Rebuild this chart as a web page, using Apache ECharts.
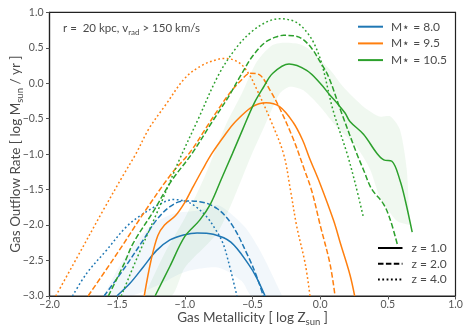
<!DOCTYPE html>
<html><head><meta charset="utf-8">
<script src="https://cdn.jsdelivr.net/npm/echarts@6/dist/echarts.min.js"></script>
<style>html,body{margin:0;padding:0;background:#fff}#c{width:471px;height:336px}</style>
</head><body><div id="c"></div><script>
// ---------- data ----------
var xTicks = [-2.0, -1.5, -1.0, -0.5, 0.0, 0.5, 1.0];
var yTicks = [-3.0, -2.5, -2.0, -1.5, -1.0, -0.5, 0.0, 0.5, 1.0];
var massLabels = ['M⋆ = 8.0', 'M⋆ = 9.5', 'M⋆ = 10.5'];
var zLabels = ['z = 1.0', 'z = 2.0', 'z = 4.0'];

var blueZ1 = [[-1.503,-3.0],[-1.405,-2.82],[-1.307,-2.59],[-1.21,-2.36],[-1.11,-2.21],[-1.01,-2.14],[-0.91,-2.11],[-0.79,-2.13],[-0.66,-2.24],[-0.53,-2.55],[-0.47,-2.74],[-0.407,-3.0]];
var blueZ2 = [[-1.597,-3.0],[-1.455,-2.63],[-1.307,-2.21],[-1.21,-1.93],[-1.11,-1.74],[-1.01,-1.66],[-0.89,-1.67],[-0.76,-1.77],[-0.65,-2.0],[-0.53,-2.45],[-0.47,-2.72],[-0.42,-3.0]];
var blueZ4 = [[-1.83,-3.0],[-1.725,-2.68],[-1.577,-2.35],[-1.43,-2.02],[-1.307,-1.84],[-1.18,-1.70],[-1.085,-1.64],[-0.986,-1.67],[-0.92,-1.74],[-0.84,-1.88],[-0.777,-2.05],[-0.72,-2.25],[-0.68,-2.5],[-0.615,-3.0]];

var orangeZ1 = [[-1.3,-3.0],[-1.25,-2.5],[-1.2,-2.15],[-1.15,-2.0],[-1.07,-1.87],[-1.0,-1.68],[-0.95,-1.5],[-0.87,-1.22],[-0.8,-0.99],[-0.7,-0.72],[-0.63,-0.55],[-0.5,-0.33],[-0.4,-0.275],[-0.3,-0.33],[-0.2,-0.55],[-0.13,-0.8],[-0.08,-1.05],[0.0,-1.42],[0.1,-1.94],[0.15,-2.26],[0.22,-2.7],[0.255,-3.0]];
var orangeZ2 = [[-1.715,-3.0],[-1.5,-2.4],[-1.3,-1.82],[-1.1,-1.28],[-0.96,-0.97],[-0.85,-0.65],[-0.75,-0.36],[-0.66,-0.12],[-0.58,0.05],[-0.52,0.14],[-0.45,0.12],[-0.37,-0.1],[-0.3,-0.35],[-0.2,-0.78],[-0.12,-1.2],[-0.062,-1.52],[0.0,-2.0],[0.073,-2.55],[0.11,-3.0]];
var orangeZ4 = [[-1.954,-3.0],[-1.8,-2.47],[-1.6,-1.78],[-1.45,-1.28],[-1.36,-0.99],[-1.265,-0.64],[-1.14,-0.3],[-1.0,0.07],[-0.875,0.25],[-0.75,0.34],[-0.7,0.35],[-0.6,0.29],[-0.53,0.14],[-0.47,-0.08],[-0.36,-0.55],[-0.27,-1.0],[-0.22,-1.5],[-0.173,-2.02],[-0.11,-2.55],[-0.075,-3.0]];

var greenZ1 = [[-1.22,-3.0],[-1.11,-2.58],[-1.0,-2.16],[-0.89,-1.93],[-0.81,-1.7],[-0.73,-1.35],[-0.65,-1.0],[-0.57,-0.64],[-0.49,-0.29],[-0.42,-0.06],[-0.35,0.14],[-0.23,0.27],[-0.1,0.18],[0.0,0.0],[0.073,-0.17],[0.12,-0.27],[0.184,-0.42],[0.22,-0.54],[0.32,-0.72],[0.42,-0.99],[0.47,-1.08],[0.53,-1.10],[0.59,-1.37],[0.63,-1.66],[0.68,-2.10]];
var greenZ2 = [[-1.565,-3.0],[-1.45,-2.55],[-1.38,-2.25],[-1.23,-1.8],[-1.1,-1.38],[-0.95,-1.0],[-0.8,-0.55],[-0.68,-0.2],[-0.59,0.1],[-0.5,0.38],[-0.41,0.57],[-0.33,0.65],[-0.27,0.675],[-0.2,0.67],[-0.136,0.63],[-0.062,0.49],[0.0,0.3],[0.06,0.1],[0.147,-0.36],[0.27,-0.99],[0.32,-1.22],[0.38,-1.49],[0.467,-1.70],[0.517,-1.92],[0.57,-2.27]];
var greenZ4 = [[-1.47,-3.0],[-1.35,-2.45],[-1.2,-1.8],[-1.05,-1.12],[-0.9,-0.5],[-0.75,0.12],[-0.62,0.5],[-0.51,0.72],[-0.4,0.86],[-0.3,0.91],[-0.2,0.88],[-0.148,0.82],[-0.09,0.7],[-0.04,0.54],[0.014,0.26],[0.095,-0.38],[0.2,-1.0],[0.26,-1.42],[0.317,-1.87]];

var greenBandUpper = [[-1.3,-3.0],[-1.15,-2.4],[-1.0,-1.9],[-0.85,-1.3],[-0.7,-0.6],[-0.58,-0.15],[-0.47,0.3],[-0.36,0.53],[-0.27,0.57],[-0.15,0.55],[-0.075,0.47],[0.073,0.19],[0.17,-0.05],[0.32,-0.33],[0.44,-0.47],[0.52,-0.47],[0.59,-0.66],[0.64,-1.22],[0.66,-2.0]];
var greenBandLower = [[-1.3,-3.0],[-1.1,-3.0],[-1.0,-2.6],[-0.75,-2.08],[-0.505,-1.0],[-0.41,-0.6],[-0.3,-0.15],[-0.225,-0.05],[-0.124,-0.1],[0.0,-0.33],[0.12,-0.61],[0.27,-0.9],[0.37,-1.22],[0.44,-1.6],[0.566,-1.94],[0.66,-2.0]];
var blueBandUpper = [[-1.6,-3.0],[-1.455,-2.49],[-1.26,-2.02],[-1.085,-1.84],[-0.89,-1.79],[-0.75,-1.72],[-0.555,-2.03],[-0.43,-2.41],[-0.28,-3.0]];
var blueBandLower = [[-1.6,-3.0],[-1.4,-3.0],[-1.2,-2.85],[-1.0,-2.66],[-0.75,-2.6],[-0.58,-2.79],[-0.505,-3.0],[-0.28,-3.0]];

// ---------- style ----------
var FONT = 'Lato';
var TXT = '#4a4a4a';
var C_BLUE = '#1f77b4', C_ORANGE = '#ff7f0e', C_GREEN = '#2ca02c';
var DASH = [5.5, 2.4], DOT = [1.8, 2.5];

function fmt(v){ return (v < 0 ? '\u2212' : '') + Math.abs(v).toFixed(1); }

function lineS(name, data, color, type){
  return {type:'line', name:name, data:data, showSymbol:false, symbol:'none', smooth:0.35,
    lineStyle:{color:color, width:1.5, type:type}, itemStyle:{color:color},
    z:3, silent:true, clip:true};
}
function bandS(upper, lower, color){
  return {type:'custom', silent:true, z:1, clip:true, data:[upper[0]],
    renderItem:function(params, api){
      var pts = upper.concat(lower.slice().reverse()).map(function(p){ return api.coord(p); });
      return {type:'polygon', shape:{points:pts, smooth:0.25}, style:{fill:color}};
    }};
}
function dummy(name, type){
  return {type:'line', name:name, data:[], symbol:'none', lineStyle:{color:'#000', width:2, type:type}, itemStyle:{color:'#000'}};
}
var legendItemStyle = {color:'rgba(0,0,0,0)', borderColor:'rgba(0,0,0,0)', borderWidth:0, opacity:0};

var chart = echarts.init(document.getElementById('c'), null, {renderer:'canvas'});
chart.setOption({
  animation:false,
  backgroundColor:'#fff',
  textStyle:{fontFamily:FONT},
  grid:{left:49.5, right:15.5, top:12.3, bottom:40, show:true, borderColor:'#222', borderWidth:1.2,
    backgroundColor:'transparent', containLabel:false, outerBoundsMode:'none'},
  title:{
    text:'r =  20 kpc, v{sub|rad} > 150 km/s', left:63, top:20, padding:0,
    textStyle:{fontFamily:FONT, fontSize:11.5, fontWeight:'normal', color:TXT, lineHeight:16,
      rich:{sub:{fontFamily:FONT, fontSize:8, color:TXT, verticalAlign:'bottom', lineHeight:16, padding:[5,0,0,0]}}}
  },
  legend:[
    {orient:'vertical', left:357, top:19.7, padding:0, itemWidth:25, itemHeight:14, itemGap:2.7,
     data:massLabels, selectedMode:false, itemStyle:legendItemStyle,
     textStyle:{fontFamily:FONT, fontSize:12, color:TXT, lineHeight:14, padding:[0,0,0,3]}},
    {orient:'vertical', left:377, top:241, padding:0, itemWidth:24.5, itemHeight:14, itemGap:1.8,
     data:zLabels, selectedMode:false, itemStyle:legendItemStyle,
     textStyle:{fontFamily:FONT, fontSize:12, color:TXT, lineHeight:14, padding:[0,0,0,4]}}
  ],
  xAxis:{type:'value', min:xTicks[0], max:xTicks[xTicks.length-1], interval:0.5,
    splitLine:{show:false},
    axisLine:{show:true, onZero:false, lineStyle:{color:'#222', width:1.2}},
    axisTick:{show:true, length:3.5, lineStyle:{color:'#555'}},
    axisLabel:{formatter:fmt, color:'#555', fontSize:10.5, margin:3.5, fontFamily:FONT},
    name:'Gas Metallicity [ log Z{sub|sun} ]', nameLocation:'middle', nameGap:13, nameMoveOverlap:false,
    nameTextStyle:{fontFamily:FONT, fontSize:13.5, color:TXT, lineHeight:18,
      rich:{sub:{fontFamily:FONT, fontSize:9.5, color:TXT, verticalAlign:'bottom', lineHeight:18, padding:[6,0,0,0]}}}
  },
  yAxis:{type:'value', min:yTicks[0], max:yTicks[yTicks.length-1], interval:0.5,
    splitLine:{show:false},
    axisLine:{show:true, onZero:false, lineStyle:{color:'#222', width:1.2}},
    axisTick:{show:true, length:3.5, lineStyle:{color:'#555'}},
    axisLabel:{formatter:fmt, color:'#555', fontSize:10.5, margin:6, fontFamily:FONT},
    name:'Gas Outflow Rate [ log M{sub|sun} / yr ]', nameLocation:'middle', nameGap:25, nameMoveOverlap:false,
    nameTextStyle:{fontFamily:FONT, fontSize:13.5, color:TXT, lineHeight:18,
      rich:{sub:{fontFamily:FONT, fontSize:9.5, color:TXT, verticalAlign:'bottom', lineHeight:18, padding:[6,0,0,0]}}}
  },
  series:[
    bandS(blueBandUpper, blueBandLower, 'rgba(31,119,180,0.06)'),
    bandS(greenBandUpper, greenBandLower, 'rgba(44,160,44,0.07)'),
    lineS(massLabels[0], blueZ1, C_BLUE, 'solid'),
    lineS('b2', blueZ2, C_BLUE, DASH),
    lineS('b4', blueZ4, C_BLUE, DOT),
    lineS(massLabels[1], orangeZ1, C_ORANGE, 'solid'),
    lineS('o2', orangeZ2, C_ORANGE, DASH),
    lineS('o4', orangeZ4, C_ORANGE, DOT),
    lineS(massLabels[2], greenZ1, C_GREEN, 'solid'),
    lineS('g2', greenZ2, C_GREEN, DASH),
    lineS('g4', greenZ4, C_GREEN, DOT),
    dummy(zLabels[0], 'solid'),
    dummy(zLabels[1], DASH),
    dummy(zLabels[2], DOT)
  ]
});
</script></body></html>
